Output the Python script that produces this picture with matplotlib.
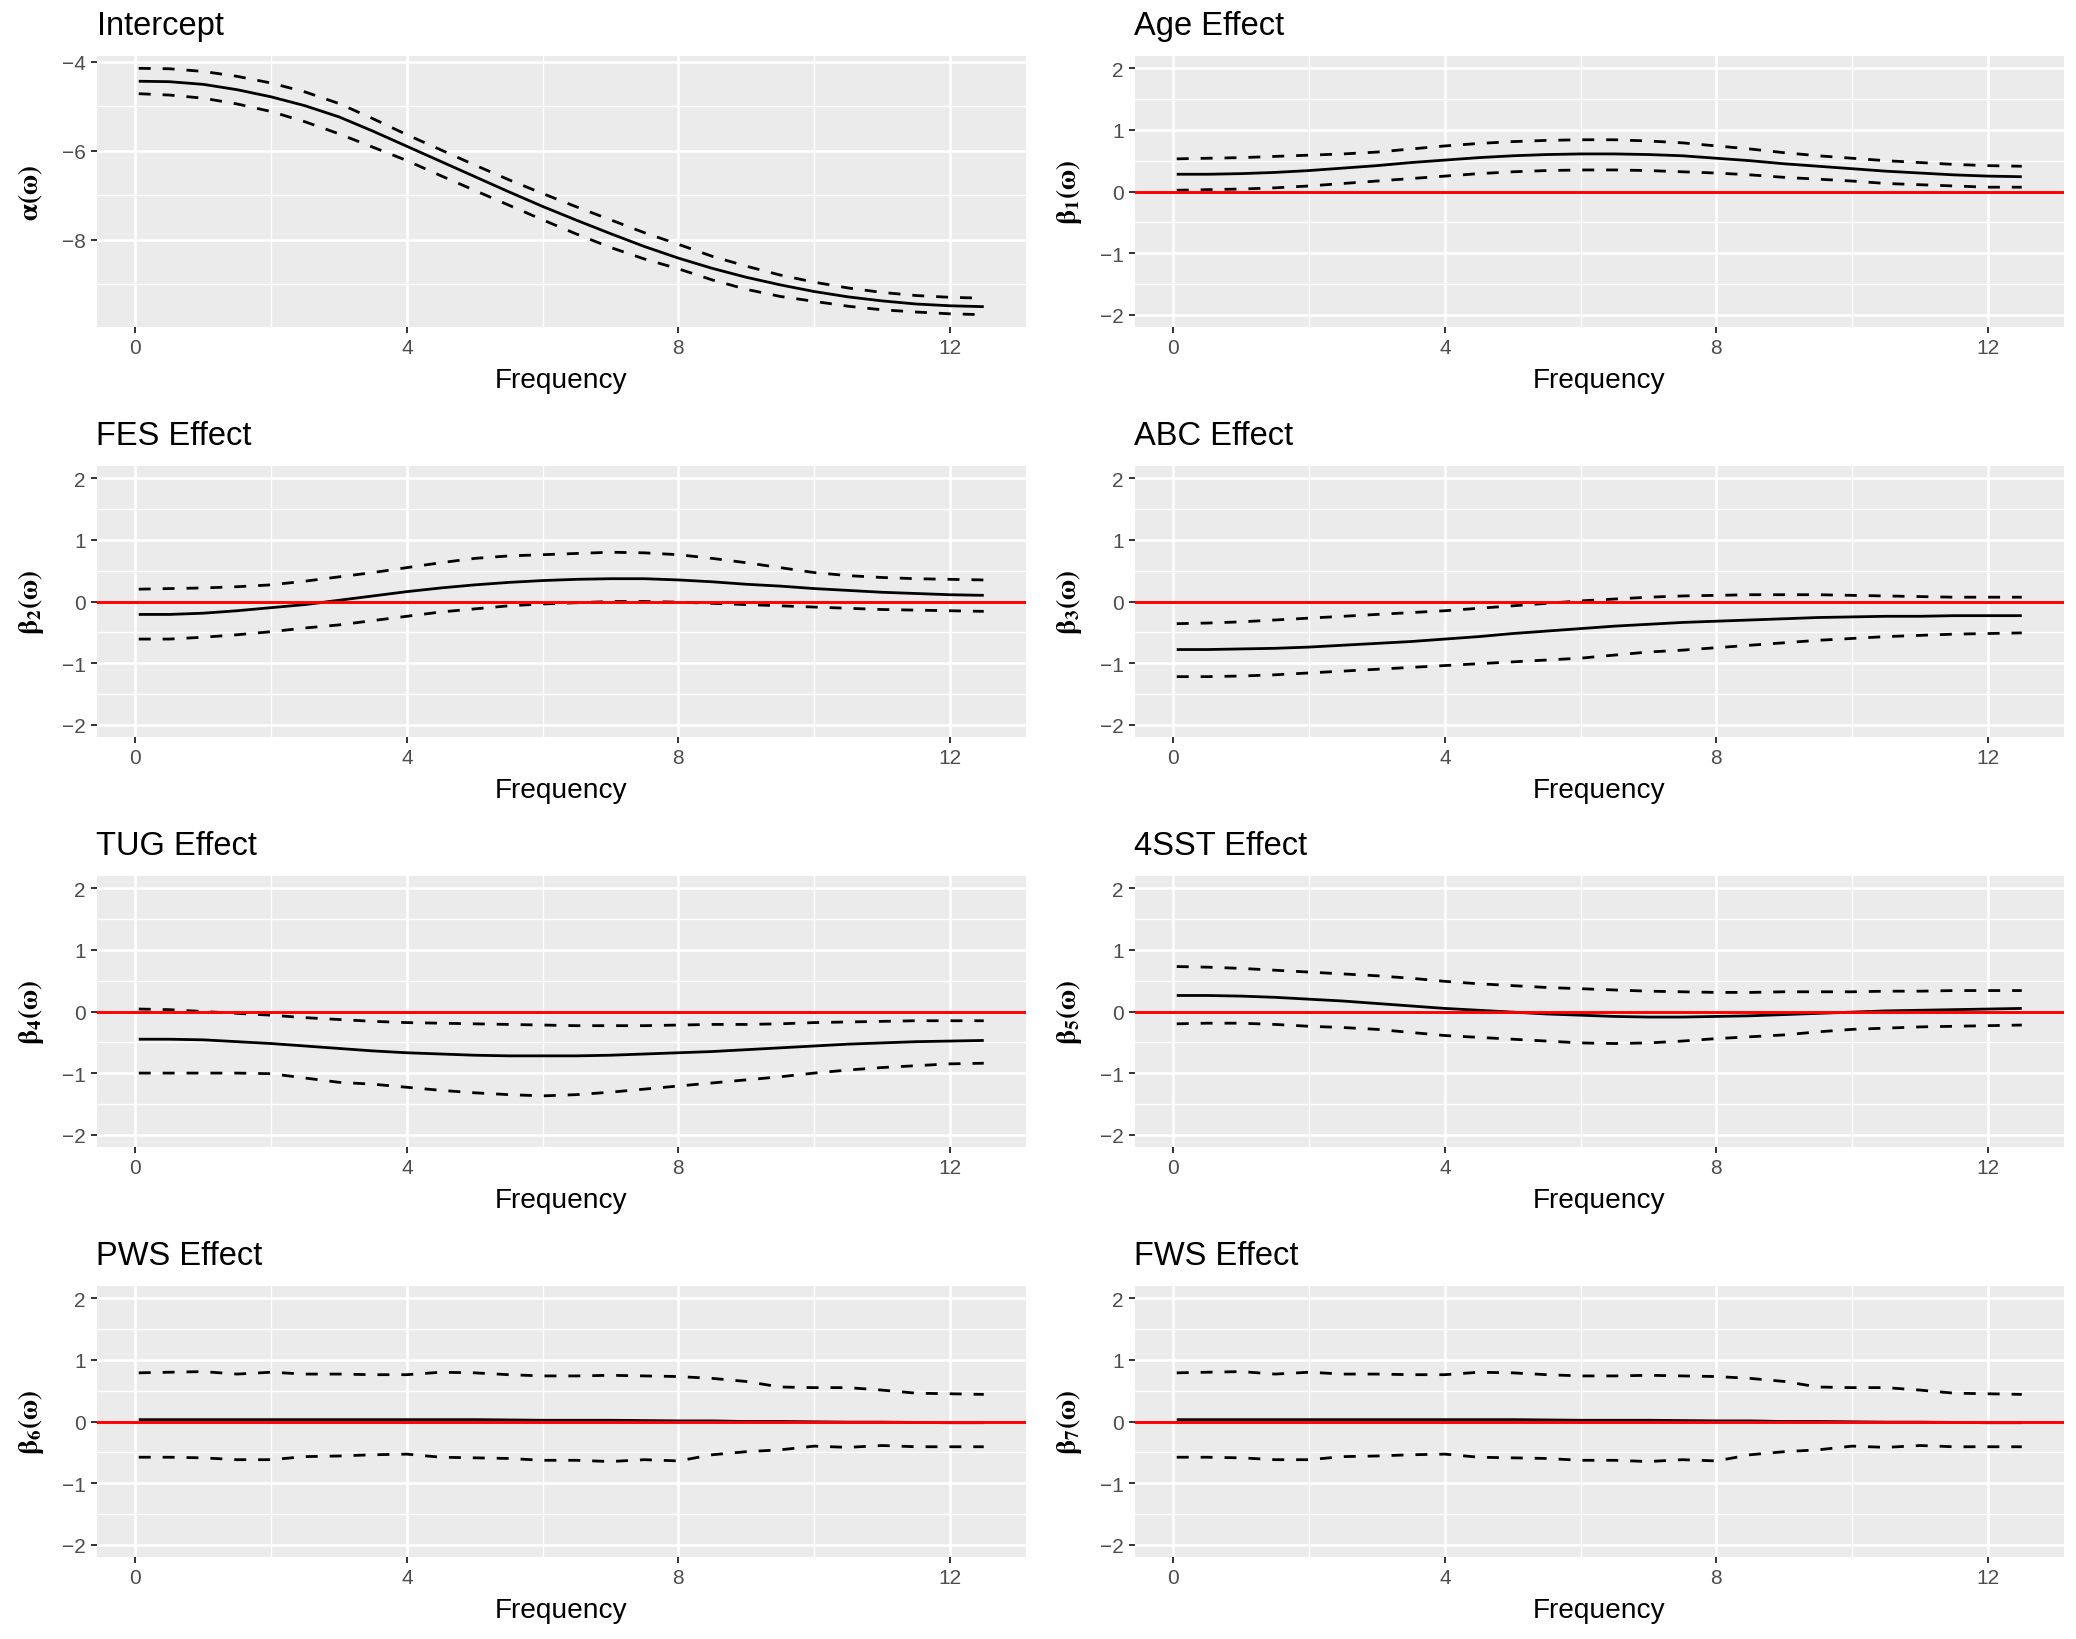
import matplotlib
matplotlib.use("Agg")
import matplotlib.pyplot as plt
from matplotlib.ticker import MultipleLocator

plt.rcParams['font.family'] = ['Liberation Sans', 'DejaVu Sans']
plt.rcParams['mathtext.fontset'] = 'stix'

# frequency grid
freq = [0.05, 0.5, 1.0, 1.5, 2.0, 2.5, 3.0, 3.5, 4.0, 4.5, 5.0, 5.5, 6.0,
        6.5, 7.0, 7.5, 8.0, 8.5, 9.0, 9.5, 10.0, 10.5, 11.0, 11.5, 12.0, 12.5]

# Intercept
intercept_est = [-4.44, -4.45, -4.51, -4.63, -4.79, -4.99, -5.24, -5.56, -5.90, -6.24, -6.58, -6.92, -7.25,
                 -7.56, -7.86, -8.15, -8.41, -8.64, -8.84, -9.01, -9.16, -9.28, -9.37, -9.44, -9.48, -9.50]
intercept_up = [-4.15, -4.16, -4.22, -4.33, -4.48, -4.68, -4.94, -5.28, -5.64, -5.98, -6.32, -6.65, -6.96,
                -7.26, -7.55, -7.84, -8.10, -8.37, -8.59, -8.79, -8.95, -9.08, -9.18, -9.25, -9.29, -9.31]
intercept_lo = [-4.72, -4.75, -4.82, -4.95, -5.12, -5.35, -5.62, -5.92, -6.22, -6.56, -6.89, -7.22, -7.55,
                -7.87, -8.17, -8.43, -8.65, -8.90, -9.11, -9.27, -9.38, -9.49, -9.57, -9.62, -9.66, -9.68]

# Age
age_est = [0.28, 0.28, 0.29, 0.31, 0.34, 0.38, 0.42, 0.47, 0.51, 0.55, 0.58, 0.60, 0.61,
           0.61, 0.60, 0.58, 0.54, 0.50, 0.45, 0.41, 0.37, 0.33, 0.30, 0.27, 0.25, 0.24]
age_up = [0.53, 0.54, 0.55, 0.57, 0.59, 0.61, 0.64, 0.69, 0.74, 0.78, 0.81, 0.83, 0.84,
          0.84, 0.82, 0.79, 0.74, 0.69, 0.63, 0.58, 0.54, 0.50, 0.47, 0.44, 0.42, 0.41]
age_lo = [0.02, 0.03, 0.04, 0.06, 0.09, 0.13, 0.17, 0.21, 0.25, 0.29, 0.32, 0.34, 0.35,
          0.35, 0.34, 0.32, 0.30, 0.27, 0.23, 0.20, 0.17, 0.13, 0.11, 0.09, 0.07, 0.07]

# FES
fes_est = [-0.21, -0.21, -0.19, -0.15, -0.10, -0.05, 0.02, 0.09, 0.16, 0.22, 0.27, 0.31, 0.34,
           0.36, 0.37, 0.37, 0.35, 0.32, 0.28, 0.25, 0.21, 0.18, 0.15, 0.13, 0.11, 0.10]
fes_up = [0.20, 0.21, 0.22, 0.24, 0.27, 0.33, 0.40, 0.47, 0.55, 0.63, 0.70, 0.74, 0.76,
          0.78, 0.80, 0.79, 0.76, 0.70, 0.63, 0.55, 0.47, 0.42, 0.39, 0.37, 0.36, 0.35]
fes_lo = [-0.61, -0.61, -0.58, -0.54, -0.49, -0.43, -0.38, -0.31, -0.24, -0.17, -0.12, -0.07, -0.04,
          -0.02, 0.00, 0.00, -0.01, -0.03, -0.05, -0.07, -0.09, -0.11, -0.13, -0.14, -0.15, -0.16]

# ABC
abc_est = [-0.78, -0.78, -0.77, -0.76, -0.74, -0.71, -0.68, -0.65, -0.61, -0.57, -0.52, -0.48, -0.44,
           -0.40, -0.37, -0.34, -0.32, -0.30, -0.28, -0.26, -0.25, -0.24, -0.24, -0.23, -0.23, -0.23]
abc_up = [-0.36, -0.35, -0.33, -0.30, -0.27, -0.24, -0.21, -0.18, -0.15, -0.11, -0.07, -0.03, 0.01,
          0.04, 0.07, 0.09, 0.10, 0.11, 0.11, 0.11, 0.10, 0.09, 0.08, 0.07, 0.07, 0.07]
abc_lo = [-1.22, -1.22, -1.21, -1.19, -1.16, -1.13, -1.10, -1.07, -1.04, -1.01, -0.98, -0.95, -0.92,
          -0.87, -0.82, -0.79, -0.75, -0.71, -0.67, -0.63, -0.60, -0.57, -0.55, -0.53, -0.52, -0.51]

# TUG
tug_est = [-0.45, -0.45, -0.46, -0.49, -0.52, -0.56, -0.60, -0.64, -0.67, -0.69, -0.71, -0.72, -0.72,
           -0.72, -0.71, -0.69, -0.67, -0.65, -0.62, -0.59, -0.56, -0.53, -0.51, -0.49, -0.48, -0.47]
tug_up = [0.04, 0.03, 0.00, -0.03, -0.06, -0.10, -0.13, -0.16, -0.18, -0.19, -0.20, -0.21, -0.22,
          -0.23, -0.23, -0.23, -0.22, -0.21, -0.21, -0.20, -0.18, -0.17, -0.16, -0.15, -0.15, -0.15]
tug_lo = [-1.00, -1.00, -1.00, -1.00, -1.01, -1.08, -1.15, -1.18, -1.23, -1.28, -1.32, -1.35, -1.37,
          -1.35, -1.31, -1.26, -1.21, -1.16, -1.11, -1.06, -1.00, -0.95, -0.91, -0.88, -0.85, -0.84]

# 4SST
sst_est = [0.26, 0.26, 0.25, 0.23, 0.20, 0.17, 0.13, 0.09, 0.05, 0.02, -0.01, -0.04, -0.06,
           -0.08, -0.09, -0.09, -0.08, -0.07, -0.05, -0.03, -0.01, 0.01, 0.02, 0.03, 0.04, 0.05]
sst_up = [0.73, 0.72, 0.70, 0.67, 0.64, 0.61, 0.58, 0.54, 0.49, 0.45, 0.42, 0.39, 0.37,
          0.35, 0.33, 0.32, 0.31, 0.31, 0.32, 0.32, 0.32, 0.33, 0.33, 0.34, 0.34, 0.34]
sst_lo = [-0.20, -0.19, -0.19, -0.21, -0.24, -0.26, -0.29, -0.34, -0.39, -0.42, -0.45, -0.48, -0.51,
          -0.52, -0.51, -0.48, -0.44, -0.41, -0.38, -0.33, -0.29, -0.27, -0.25, -0.24, -0.23, -0.22]

# PWS
pws_est = [0.03, 0.03, 0.03, 0.03, 0.03, 0.03, 0.03, 0.03, 0.03, 0.03, 0.03, 0.025, 0.02,
           0.02, 0.02, 0.015, 0.01, 0.01, 0.0, 0.0, -0.005, -0.01, -0.01, -0.015, -0.02, -0.02]
pws_up = [0.79, 0.80, 0.81, 0.77, 0.80, 0.77, 0.77, 0.76, 0.76, 0.80, 0.79, 0.76, 0.74,
          0.74, 0.75, 0.74, 0.73, 0.70, 0.65, 0.56, 0.55, 0.55, 0.51, 0.46, 0.45, 0.44]
pws_lo = [-0.58, -0.58, -0.59, -0.62, -0.62, -0.57, -0.56, -0.54, -0.53, -0.58, -0.59, -0.60, -0.63,
          -0.63, -0.65, -0.62, -0.64, -0.54, -0.49, -0.46, -0.40, -0.42, -0.39, -0.41, -0.41, -0.41]

# FWS (same fit as PWS in the figure)
fws_est = [0.03, 0.03, 0.03, 0.03, 0.03, 0.03, 0.03, 0.03, 0.03, 0.03, 0.03, 0.025, 0.02,
           0.02, 0.02, 0.015, 0.01, 0.01, 0.0, 0.0, -0.005, -0.01, -0.01, -0.015, -0.02, -0.02]
fws_up = [0.79, 0.80, 0.81, 0.77, 0.80, 0.77, 0.77, 0.76, 0.76, 0.80, 0.79, 0.76, 0.74,
          0.74, 0.75, 0.74, 0.73, 0.70, 0.65, 0.56, 0.55, 0.55, 0.51, 0.46, 0.45, 0.44]
fws_lo = [-0.58, -0.58, -0.59, -0.62, -0.62, -0.57, -0.56, -0.54, -0.53, -0.58, -0.59, -0.60, -0.63,
          -0.63, -0.65, -0.62, -0.64, -0.54, -0.49, -0.46, -0.40, -0.42, -0.39, -0.41, -0.41, -0.41]

titles = ["Intercept", "Age Effect", "FES Effect", "ABC Effect",
          "TUG Effect", "4SST Effect", "PWS Effect", "FWS Effect"]
ylabels = [r"$\mathbf{\alpha(\omega)}$", r"$\mathbf{\beta_1(\omega)}$", r"$\mathbf{\beta_2(\omega)}$",
           r"$\mathbf{\beta_3(\omega)}$", r"$\mathbf{\beta_4(\omega)}$", r"$\mathbf{\beta_5(\omega)}$",
           r"$\mathbf{\beta_6(\omega)}$", r"$\mathbf{\beta_7(\omega)}$"]
series = [(intercept_est, intercept_up, intercept_lo), (age_est, age_up, age_lo),
          (fes_est, fes_up, fes_lo), (abc_est, abc_up, abc_lo),
          (tug_est, tug_up, tug_lo), (sst_est, sst_up, sst_lo),
          (pws_est, pws_up, pws_lo), (fws_est, fws_up, fws_lo)]

W, H = 2076, 1640
fig = plt.figure(figsize=(W / 100, H / 100), dpi=100)

pw, ph = 929.5, 271
lefts = [96.5, 1134.5]

for i in range(8):
    r, c = i // 2, i % 2
    top = 57 + 410 * r
    ax = fig.add_axes([lefts[c] / W, (H - top - ph) / H, pw / W, ph / H])
    ax.set_facecolor("#EBEBEB")
    for s in ax.spines.values():
        s.set_visible(False)

    est, up, lo = series[i]
    ax.plot(freq, est, color="black", lw=2.0, solid_capstyle="butt")
    ax.plot(freq, up, color="black", lw=2.0, dashes=(4.3, 4.3))
    ax.plot(freq, lo, color="black", lw=2.0, dashes=(4.3, 4.3))

    xr = freq[-1] - freq[0]
    ax.set_xlim(freq[0] - 0.05 * xr, freq[-1] + 0.05 * xr)
    ax.xaxis.set_major_locator(MultipleLocator(4))
    ax.xaxis.set_minor_locator(MultipleLocator(2))

    if i == 0:
        ymin, ymax = min(lo), max(up)
        yr = ymax - ymin
        ax.set_ylim(ymin - 0.05 * yr, ymax + 0.05 * yr)
        ax.yaxis.set_major_locator(MultipleLocator(2))
        ax.yaxis.set_minor_locator(MultipleLocator(1))
    else:
        ax.axhline(0, color="red", lw=2.1, zorder=3)
        ax.set_ylim(-2.2, 2.2)
        ax.yaxis.set_major_locator(MultipleLocator(1))
        ax.yaxis.set_minor_locator(MultipleLocator(0.5))

    ax.set_axisbelow(True)
    ax.grid(which="major", color="white", lw=1.9)
    ax.grid(which="minor", color="white", lw=1.0)
    ax.tick_params(which="major", length=4.6, width=1.4, color="#333333",
                   labelsize=15, labelcolor="#4D4D4D", pad=3)
    ax.tick_params(which="minor", length=0)

    ax.set_title(titles[i], loc="left", fontsize=23.5, pad=15.5, color="black")
    ax.set_xlabel("Frequency", fontsize=20.2)
    ax.xaxis.label.set_va("baseline")
    ax.xaxis.set_label_coords(0.5, -60 / ph)
    ax.set_ylabel(ylabels[i], fontsize=19.5)
    ax.yaxis.label.set_va("center")
    ax.yaxis.set_label_coords(-66 / pw, 0.5)

fig.savefig("out.png", dpi=100, facecolor="white")
